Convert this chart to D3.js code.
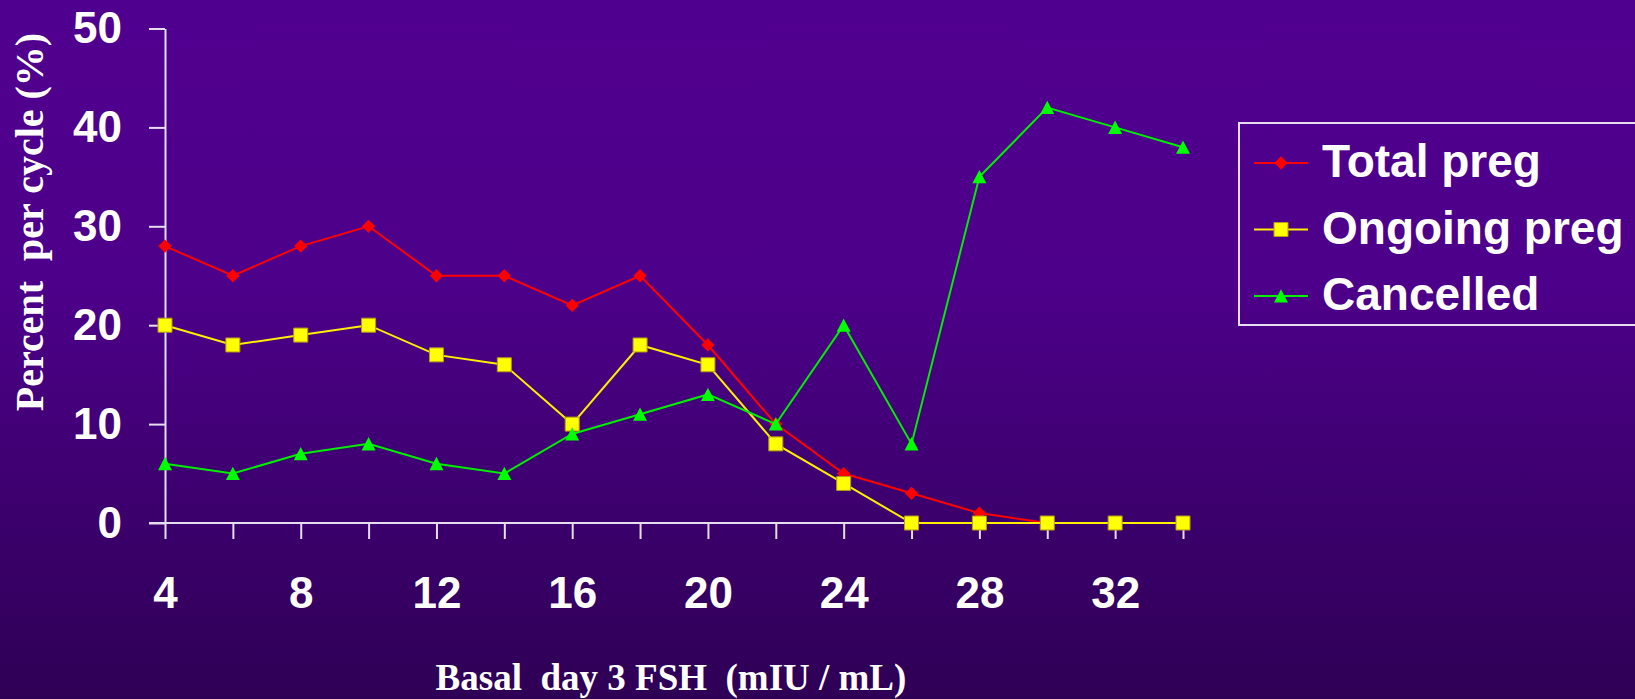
<!DOCTYPE html>
<html>
<head>
<meta charset="utf-8">
<script src="https://cdn.jsdelivr.net/npm/d3@7"></script>
<style>
  html, body { margin: 0; padding: 0; background: #2e0055; }
  svg { display: block; }
</style>
</head>
<body>
<script>
// Basal day-3 FSH (mIU/mL) against outcome rates per cycle
const fshLevels   = [4, 6, 8, 10, 12, 14, 16, 18, 20, 22, 24, 26, 28, 30, 32, 34];
const totalPreg   = [28, 25, 28, 30, 25, 25, 22, 25, 18, 10, 5, 3, 1, 0, 0, 0];
const ongoingPreg = [20, 18, 19, 20, 17, 16, 10, 18, 16, 8, 4, 0, 0, 0, 0, 0];
const cancelled   = [6, 5, 7, 8, 6, 5, 9, 11, 13, 10, 20, 8, 35, 42, 40, 38];

const seriesNames = ["Total preg", "Ongoing preg", "Cancelled"];
const yTicks = [0, 10, 20, 30, 40, 50];
const xLabelled = [4, 8, 12, 16, 20, 24, 28, 32];
const yTitle = "Percent  per cycle (%)";
const xTitle = "Basal  day 3 FSH  (mIU / mL)";

const W = 1635, H = 699;
const sansBold = "'Liberation Sans', Arial, Helvetica, sans-serif";
const serif = "'Liberation Serif', 'Times New Roman', serif";
const axisColor = "#e6ddf0";

const svg = d3.select("body").append("svg")
  .attr("width", W).attr("height", H);

// background gradient
const defs = svg.append("defs");
const grad = defs.append("linearGradient")
  .attr("id", "bg").attr("x1", 0).attr("y1", 0).attr("x2", 0).attr("y2", 1);
grad.append("stop").attr("offset", "0%").attr("stop-color", "#50008e");
grad.append("stop").attr("offset", "40%").attr("stop-color", "#4d008a");
grad.append("stop").attr("offset", "100%").attr("stop-color", "#2e0055");
svg.append("rect").attr("width", W).attr("height", H).attr("fill", "url(#bg)");

const x = d3.scaleLinear().domain([4, 34]).range([165, 1183]);
const y = d3.scaleLinear().domain([0, 50]).range([523, 28.5]);

// y axis
const yAxis = svg.append("g")
  .attr("transform", `translate(${x(4)},0)`)
  .call(d3.axisLeft(y).tickValues(yTicks).tickSize(16).tickPadding(27).tickSizeOuter(0));
yAxis.select(".domain").attr("stroke", axisColor).attr("stroke-width", 2);
yAxis.selectAll(".tick line").attr("stroke", axisColor).attr("stroke-width", 2);
yAxis.selectAll(".tick text")
  .attr("fill", "#ffffff").attr("font-family", sansBold)
  .attr("font-weight", "bold").attr("font-size", 44);

// x axis
const xAxis = svg.append("g")
  .attr("transform", `translate(0,${y(0)})`)
  .call(d3.axisBottom(x).tickValues(fshLevels).tickSize(16).tickPadding(38).tickSizeOuter(0)
    .tickFormat(d => xLabelled.includes(d) ? String(d) : ""));
xAxis.select(".domain").attr("stroke", axisColor).attr("stroke-width", 2)
  .attr("d", `M${x(4) - 16},0H${x(34)}`);
xAxis.selectAll(".tick line").attr("stroke", axisColor).attr("stroke-width", 2);
xAxis.selectAll(".tick text")
  .attr("fill", "#ffffff").attr("font-family", sansBold)
  .attr("font-weight", "bold").attr("font-size", 44);

// axis titles
svg.append("text")
  .attr("transform", `translate(43,${222}) rotate(-90)`)
  .attr("text-anchor", "middle")
  .attr("fill", "#ffffff").attr("font-family", serif)
  .attr("font-weight", "bold").attr("font-size", 40)
  .style("white-space", "pre")
  .text(yTitle);

svg.append("text")
  .attr("x", 671).attr("y", 690)
  .attr("text-anchor", "middle")
  .attr("fill", "#ffffff").attr("font-family", serif)
  .attr("font-weight", "bold").attr("font-size", 37)
  .style("white-space", "pre")
  .text(xTitle);

// marker shapes
const diamond = d3.symbol().type(d3.symbolSquare).size(88);
const square = d3.symbol().type(d3.symbolSquare).size(196);
const triangle = "M0,-6.8L7,6.5L-7,6.5Z";

const series = [
  { name: seriesNames[0], values: totalPreg, color: "#ff0000", lineColor: "#ff0000",
    marker: g => g.append("path").attr("d", diamond()).attr("transform", "rotate(45)")
                   .attr("fill", "#ff0000") },
  { name: seriesNames[1], values: ongoingPreg, color: "#ffff00", lineColor: "#ffee00",
    marker: g => g.append("path").attr("d", square())
                   .attr("fill", "#ffff00").attr("stroke", "#b89a10").attr("stroke-width", 1) },
  { name: seriesNames[2], values: cancelled, color: "#00ff00", lineColor: "#00ee00",
    marker: g => g.append("path").attr("d", triangle).attr("fill", "#00ff00") }
];

const line = d3.line().x((d, i) => x(fshLevels[i])).y(d => y(d));

series.forEach(s => {
  const g = svg.append("g");
  g.append("path")
    .attr("d", line(s.values))
    .attr("fill", "none").attr("stroke", s.lineColor).attr("stroke-width", 2);
  g.selectAll("g.pt").data(s.values).join("g")
    .attr("class", "pt")
    .attr("transform", (d, i) => `translate(${x(fshLevels[i])},${y(d)})`)
    .each(function () { s.marker(d3.select(this)); });
});

// legend
const legend = svg.append("g");
legend.append("rect")
  .attr("x", 1239).attr("y", 123).attr("width", 440).attr("height", 202)
  .attr("fill", "none").attr("stroke", axisColor).attr("stroke-width", 2);

series.forEach((s, i) => {
  const cy = 163 + i * 66.5;
  const row = legend.append("g");
  row.append("line")
    .attr("x1", 1254).attr("x2", 1308).attr("y1", cy).attr("y2", cy)
    .attr("stroke", s.lineColor).attr("stroke-width", 2);
  s.marker(row.append("g").attr("transform", `translate(1281,${cy})`));
  row.append("text")
    .attr("x", 1322).attr("y", cy + 14)
    .attr("fill", "#ffffff").attr("font-family", sansBold)
    .attr("font-weight", "bold").attr("font-size", 46)
    .text(s.name);
});
</script>
</body>
</html>
